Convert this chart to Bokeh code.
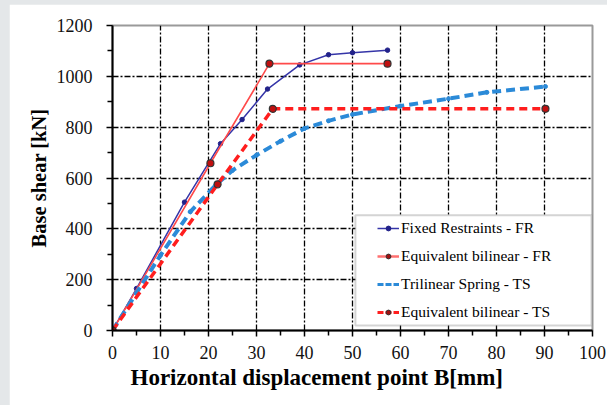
from bokeh.plotting import figure
from bokeh.models import (Range1d, FixedTicker, Legend, LegendItem, BoxAnnotation, Spacer, Title)
from bokeh.layouts import column, row
from bokeh.embed import file_html
from bokeh.resources import INLINE

# ---- data ----
fr_x = [0, 5, 15, 22.5, 27, 32.3, 39, 45, 50, 57.3]
fr_y = [0, 165, 505, 735, 830, 950, 1045, 1085, 1093, 1103]

bfr_x = [0, 20.4, 32.7, 57.3]
bfr_y = [0, 658, 1050, 1050]

ts_x = [0, 5, 10, 16.2, 21.5, 25, 30, 35, 40, 45, 50, 60, 70, 78, 90.2]
ts_y = [0, 148, 296, 467, 572, 630, 690, 745, 795, 825, 850, 883, 912, 937, 960]

bts_x = [0, 21.9, 33.4, 90.2]
bts_y = [0, 575, 872, 872]

x_ticks = [0, 10, 20, 30, 40, 50, 60, 70, 80, 90, 100]
y_ticks = [0, 200, 400, 600, 800, 1000, 1200]
x_grid = [10, 20, 30, 40, 50, 60, 70, 80, 90]
y_grid = [200, 400, 600, 800, 1000]

labels = ["Fixed Restraints - FR", "Equivalent bilinear - FR",
          "Trilinear Spring - TS", "Equivalent bilinear - TS"]
x_title = "Horizontal displacement point B[mm]"
y_title = "Base shear [kN]"

SERIF = "Liberation Serif"
BG = "#e4e7e9"

p = figure(width=598, height=401, output_backend="svg", toolbar_location=None,
           x_range=Range1d(0, 100), y_range=Range1d(0, 1200),
           min_border_left=103, min_border_top=21, min_border_right=15,
           min_border_bottom=75)
p.background_fill_color = "white"
p.border_fill_color = "white"
p.outline_line_color = "#9a9a9a"
p.outline_line_width = 2

# grid
p.xgrid.ticker = FixedTicker(ticks=x_grid)
p.ygrid.ticker = FixedTicker(ticks=y_grid)
for g in (p.xgrid, p.ygrid):
    g.grid_line_color = "black"
    g.grid_line_width = 1.3
    g.grid_line_dash = "6 2 2 2"

# axes
p.xaxis.ticker = FixedTicker(ticks=x_ticks, minor_ticks=[5, 15, 25, 35, 45, 55, 65, 75, 85, 95])
p.yaxis.ticker = FixedTicker(ticks=y_ticks, minor_ticks=[100, 300, 500, 700, 900, 1100])
for ax in (p.xaxis, p.yaxis):
    ax.axis_line_color = "black"
    ax.axis_line_width = 2
    ax.major_tick_line_color = "black"
    ax.major_tick_line_width = 1.5
    ax.minor_tick_line_color = "black"
    ax.minor_tick_line_width = 1.5
    ax.major_tick_in = 0
    ax.major_tick_out = 6
    ax.minor_tick_in = 0
    ax.minor_tick_out = 5
    ax.major_label_text_font = SERIF
    ax.major_label_text_font_size = "18px"
    ax.major_label_text_color = "#111111"
p.yaxis.axis_label = y_title
p.yaxis.axis_label_text_font = SERIF
p.yaxis.axis_label_text_font_style = "bold"
p.yaxis.axis_label_text_color = "black"
p.yaxis.axis_label_text_font_size = "20.5px"
p.yaxis.major_label_standoff = 14
p.xaxis.major_label_standoff = 9
p.yaxis.axis_label_standoff = 4

xt = Title(text=x_title, align="left", offset=18, text_font=SERIF,
           text_font_size="23px", text_font_style="bold", text_color="black",
           standoff=3)
p.add_layout(xt, "below")

# series
r_fr = p.line(fr_x, fr_y, line_color="#3535a8", line_width=1.5)
m_fr = p.scatter(fr_x, fr_y, size=4.5, fill_color="#22228a", line_color="#22228a")

r_bfr = p.line(bfr_x, bfr_y, line_color="#ff4a4a", line_width=1.6)

r_ts = p.line(ts_x, ts_y, line_color="#2b8ad8", line_width=4, line_dash="9 5")
m_ts = p.scatter(ts_x, ts_y, size=4, fill_color="#2b8ad8", line_color="#2b8ad8")

r_bts = p.line(bts_x, bts_y, line_color="#ff1e1e", line_width=3.5, line_dash="8 5")

m_bfr = p.scatter(bfr_x, bfr_y, size=7, fill_color="#c01010", line_color="#333333", line_width=1.2)
m_bts = p.scatter(bts_x, bts_y, size=7, fill_color="#c01010", line_color="#333333", line_width=1.2)

# legend-only proxies, placed outside the visible ranges
OX, OY = [-500], [-5000]
lg_fr_m = p.scatter(OX, OY, size=3.5, fill_color="#22228a", line_color="#22228a")
lg_bfr_l = p.line(OX, OY, line_color="#ff7070", line_width=2.5)
lg_bfr_m = p.scatter(OX, OY, size=5, fill_color="#a01010", line_color="#333333", line_width=1)
lg_ts_l = p.line(OX, OY, line_color="#2b8ad8", line_width=3, line_dash="6 2")
lg_bts_l = p.line(OX, OY, line_color="#ff1e1e", line_width=3, line_dash="6 2")
lg_bts_m = p.scatter(OX, OY, size=5, fill_color="#a01010", line_color="#333333", line_width=1)

# legend box
box = BoxAnnotation(left=50.6, right=99.8, bottom=20, top=453,
                    fill_color="white", fill_alpha=1,
                    line_color="#707070", line_width=2, level="annotation")
p.add_layout(box)

legend = Legend(items=[
    LegendItem(label=labels[0], renderers=[r_fr, lg_fr_m]),
    LegendItem(label=labels[1], renderers=[lg_bfr_l, lg_bfr_m]),
    LegendItem(label=labels[2], renderers=[lg_ts_l]),
    LegendItem(label=labels[3], renderers=[lg_bts_l, lg_bts_m]),
], location=(263, 6), padding=2, spacing=8, glyph_width=22, glyph_height=12,
    label_height=20, label_standoff=2, label_text_font=SERIF,
    label_text_font_size="15.5px", label_text_color="black",
    border_line_alpha=0, background_fill_alpha=0, margin=0)
p.add_layout(legend, "center")

top = Spacer(width=607, height=4, styles={"background-color": BG})
left = Spacer(width=9, height=401, styles={"background-color": BG})
layout = column(top, row(left, p, styles={"gap": "0px"}),
                styles={"background-color": BG, "gap": "0px"})

open("out.html", "w").write(file_html(layout, INLINE))
